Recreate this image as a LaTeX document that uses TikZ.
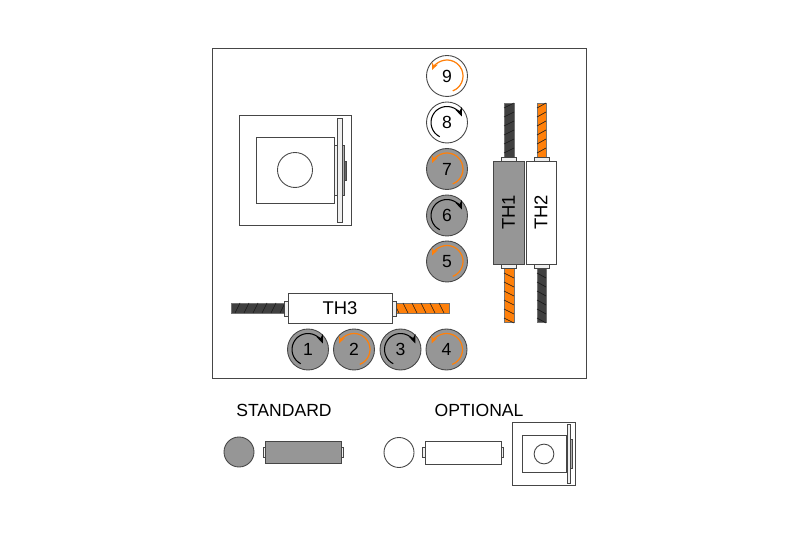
\documentclass[tikz,border=0pt]{standalone}
\usepackage{fontspec}
\setmainfont{Liberation Sans}
\usetikzlibrary{arrows.meta}

\definecolor{wheelgray}{RGB}{150,150,150}
\definecolor{lineink}{RGB}{70,70,70}
\definecolor{barorange}{RGB}{255,128,10}
\definecolor{bardark}{RGB}{64,64,64}

\tikzset{
  ink/.style={draw=lineink, line width=0.5pt},
  wheel/.style={ink, circle, inner sep=0pt, minimum size=0.82cm, font=\fontsize{10}{12}\selectfont},
  sleeve/.style={ink, inner sep=0pt, font=\fontsize{10.5}{12}\selectfont},
  collar/.style={ink, fill=black!6},
  rebar/.style={draw=black!55, line width=0.4pt},
  hatch/.style={draw=black!90, line width=0.35pt},
  turnblack/.style={draw=black, line width=0.6pt, -{Stealth[length=5pt,width=4pt]}},
  turnorange/.style={draw=barorange, line width=0.7pt, -{Stealth[length=4pt,width=3.5pt]}},
  caption/.style={inner sep=0pt, font=\fontsize{10}{12}\selectfont},
  plate/.pic={
    \draw[ink] (-56,-55) rectangle (56,55);
    \draw[ink] (-39,-33) rectangle (39,33);
    \draw[ink] (0,0) circle (17.5);
    \draw[ink, fill=black!6] (39,-25) rectangle (42,25);
    \draw[ink, fill=black!6] (42,-52) rectangle (47,52);
    \draw[ink, fill=black!30] (47,-25) rectangle (49.5,25);
    \draw[ink, fill=black!60] (49.5,-10) rectangle (51,9);
  },
}

% upright bar: x1, x2, y1, y2, colour, rise of the hatch
\newcommand{\barv}[6]{
  \draw[rebar, fill=#5] (#1,#3) rectangle (#2,#4);
  \foreach \d in {0,...,5}
    \draw[hatch] (#1,{#3+4+9*\d}) -- (#2,{#3+4+9*\d+#6});
}
% lying bar: x1, x2, y1, y2, colour, run of the hatch
\newcommand{\barh}[6]{
  \draw[rebar, fill=#5] (#1,#3) rectangle (#2,#4);
  \foreach \d in {0,...,5}
    \draw[hatch] ({#1+4+9*\d},#3) -- ({#1+4+9*\d+#6},#4);
}

\begin{document}
\begin{tikzpicture}[x=0.02cm, y=0.02cm]
  \useasboundingbox (0,0) rectangle (800,533);

  \draw[ink] (212,155) rectangle (586,485);

  \pic at (295,363) {plate};

  % bars
  \barv{504}{514}{376}{430}{bardark}{5}
  \barv{537}{546}{376}{430}{barorange}{5}
  \barv{504}{514}{211}{265}{barorange}{-5}
  \barv{537}{546}{211}{265}{bardark}{-5}
  \barh{231}{285}{220}{230}{bardark}{5}
  \barh{395}{449}{220}{230}{barorange}{-5}

  % collars
  \foreach \x in {501,534} {
    \draw[collar] (\x,372) rectangle ({\x+15},376);
    \draw[collar] (\x,265) rectangle ({\x+15},269);
  }
  \draw[collar] (284,217) rectangle (288,232);
  \draw[collar] (392,217) rectangle (396,232);

  % thermal sleeves
  \node[sleeve, fill=wheelgray, minimum width=0.62cm, minimum height=2.06cm] (th1) at (508.5,320.5) {\rotatebox{90}{TH1}};
  \node[sleeve, fill=white, minimum width=0.60cm, minimum height=2.06cm] (th2) at (541,320.5) {\rotatebox{90}{TH2}};
  \node[sleeve, fill=white, minimum width=2.08cm, minimum height=0.60cm] (th3) at (340,225) {TH3};

  % wheels
  \foreach \n/\cx/\cy/\tone in {1/308/183.5/wheelgray, 2/354/183.5/wheelgray, 3/400.5/183.5/wheelgray,
      4/446.5/183.5/wheelgray, 5/447/271.5/wheelgray, 6/447/317.5/wheelgray,
      7/447/364/wheelgray, 8/447/410.5/white, 9/447/457/white}
    \node[wheel, fill=\tone] (wheel\n) at (\cx,\cy) {\n};
  \foreach \n in {1,3,6,8}
    \draw[turnblack] (wheel\n) ++(243:16) arc[start angle=243, end angle=22, radius=16];
  \foreach \n in {2,4,5,7,9}
    \draw[turnorange] (wheel\n) ++(-69:16) arc[start angle=-69, end angle=158, radius=16];

  % legend
  \node[caption] (standard) at (284,123) {STANDARD};
  \node[caption] (optional) at (479,123) {OPTIONAL};
  \node[wheel, fill=wheelgray, minimum size=0.60cm] (stdwheel) at (239,81) {};
  \node[wheel, fill=white, minimum size=0.60cm] (optwheel) at (399,80.5) {};
  \draw[collar] (263,76) rectangle (265,86);
  \draw[collar] (341,76) rectangle (343.5,86);
  \draw[collar] (422,76) rectangle (425,86);
  \draw[collar] (501,76) rectangle (503.5,86);
  \node[sleeve, fill=wheelgray, minimum width=1.52cm, minimum height=0.44cm] (stdsleeve) at (303,81) {};
  \node[sleeve, fill=white, minimum width=1.52cm, minimum height=0.46cm] (optsleeve) at (463,80.5) {};
  \pic[scale=0.565] at (544,79) {plate};
\end{tikzpicture}
\end{document}
